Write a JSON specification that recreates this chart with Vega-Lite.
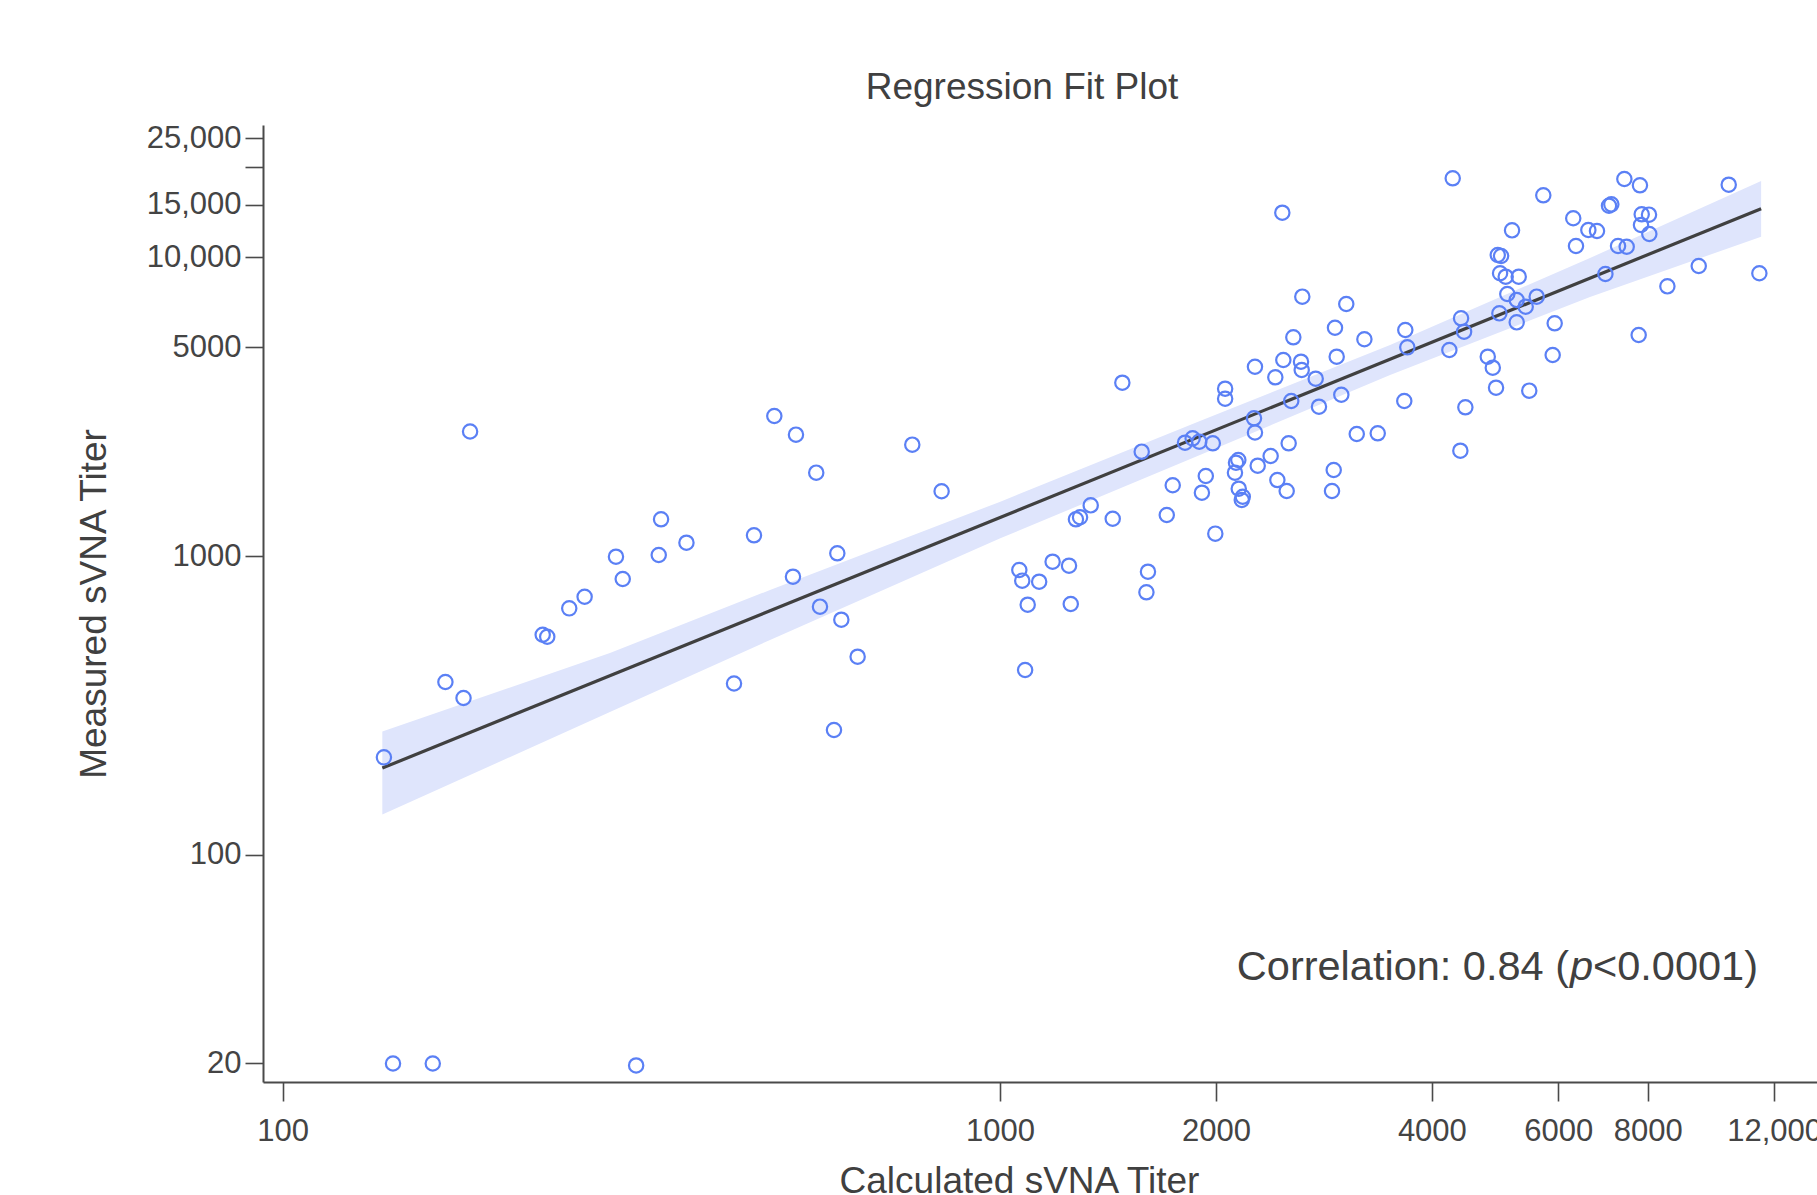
{
  "$schema": "https://vega.github.io/schema/vega-lite/v6.json",
  "width": 1554,
  "height": 957,
  "autosize": {"type": "none"},
  "padding": {"left": 263, "top": 125, "right": 0, "bottom": 113},
  "background": "white",
  "title": {"text": "Regression Fit Plot", "fontSize": 37, "font": "Liberation Sans", "fontWeight": "normal", "color": "#404040", "anchor": "middle", "dx": -18, "offset": -14, "baseline": "alphabetic", "frame": "group"},
  "config": {
    "view": {"stroke": null},
    "font": "Liberation Sans",
    "axis": {
      "grid": false,
      "domainColor": "#4a4a4a",
      "domainWidth": 2,
      "tickColor": "#4a4a4a",
      "tickWidth": 1.6,
      "labelColor": "#444444",
      "labelFont": "Liberation Sans",
      "labelFontSize": 31,
      "titleFont": "Liberation Sans",
      "titleFontSize": 37,
      "titleFontWeight": "normal",
      "titleColor": "#404040",
      "labelOverlap": false,
      "labelBound": false,
      "labelFlush": false
    }
  },
  "datasets": {
    "points": [
      {"x": 138.4, "y": 211.8}, {"x": 142.5, "y": 20}, {"x": 161.9, "y": 20}, {"x": 311, "y": 19.7},
      {"x": 168.6, "y": 378.6}, {"x": 178.7, "y": 334.7}, {"x": 182.5, "y": 2611}, {"x": 230.4, "y": 545},
      {"x": 233.8, "y": 536.7}, {"x": 250.9, "y": 668}, {"x": 263.6, "y": 730.5}, {"x": 291.5, "y": 994.6},
      {"x": 297.9, "y": 837.5}, {"x": 334.4, "y": 1008}, {"x": 336.9, "y": 1327}, {"x": 365.5, "y": 1108},
      {"x": 425.8, "y": 374.3}, {"x": 454, "y": 1173}, {"x": 484.6, "y": 2942}, {"x": 514.5, "y": 852.5},
      {"x": 519.5, "y": 2548}, {"x": 554.4, "y": 1901}, {"x": 561.1, "y": 676.7}, {"x": 586.9, "y": 261.5},
      {"x": 593.2, "y": 1021}, {"x": 600.9, "y": 612}, {"x": 633.2, "y": 460.1}, {"x": 754.6, "y": 2359},
      {"x": 829.1, "y": 1647}, {"x": 1064, "y": 897.6}, {"x": 1074, "y": 826.8}, {"x": 1093, "y": 687.1},
      {"x": 1084, "y": 415.2}, {"x": 1134, "y": 820.4}, {"x": 1184, "y": 957}, {"x": 1248, "y": 927.9},
      {"x": 1255, "y": 690.8}, {"x": 1276, "y": 1327}, {"x": 1293, "y": 1348}, {"x": 1338, "y": 1478},
      {"x": 1436, "y": 1333}, {"x": 1481, "y": 3804}, {"x": 1576, "y": 2235}, {"x": 1600, "y": 756},
      {"x": 1608, "y": 886}, {"x": 1708, "y": 1372}, {"x": 1741, "y": 1725}, {"x": 1811, "y": 2395},
      {"x": 1856, "y": 2477}, {"x": 1896, "y": 2414}, {"x": 1980, "y": 2384}, {"x": 1912, "y": 1629},
      {"x": 1936, "y": 1853}, {"x": 1996, "y": 1188}, {"x": 2060, "y": 3632}, {"x": 2060, "y": 3362},
      {"x": 2126, "y": 1901}, {"x": 2149, "y": 2096}, {"x": 2133, "y": 2053}, {"x": 2152, "y": 1680},
      {"x": 2180, "y": 1579}, {"x": 2173, "y": 1540}, {"x": 2260, "y": 2891}, {"x": 2267, "y": 2591},
      {"x": 2267, "y": 4302}, {"x": 2287, "y": 2006}, {"x": 2384, "y": 2162}, {"x": 2420, "y": 3965},
      {"x": 2436, "y": 1796}, {"x": 2475, "y": 14105}, {"x": 2483, "y": 4531}, {"x": 2510, "y": 1651},
      {"x": 2526, "y": 2384}, {"x": 2547, "y": 3303}, {"x": 2564, "y": 5398}, {"x": 2628, "y": 4472},
      {"x": 2634, "y": 4195}, {"x": 2639, "y": 7383}, {"x": 2755, "y": 3923}, {"x": 2784, "y": 3161},
      {"x": 2903, "y": 1651}, {"x": 2919, "y": 1941}, {"x": 2931, "y": 5811}, {"x": 2947, "y": 4648},
      {"x": 2991, "y": 3467}, {"x": 3039, "y": 6979}, {"x": 3143, "y": 2561}, {"x": 3221, "y": 5316},
      {"x": 3362, "y": 2575}, {"x": 3661, "y": 3303}, {"x": 3673, "y": 5709}, {"x": 3697, "y": 4995},
      {"x": 4231, "y": 4893}, {"x": 4277, "y": 18388}, {"x": 4383, "y": 2252}, {"x": 4393, "y": 6248},
      {"x": 4436, "y": 5635}, {"x": 4454, "y": 3147}, {"x": 4786, "y": 4648}, {"x": 4864, "y": 4270},
      {"x": 4915, "y": 3660}, {"x": 4942, "y": 10179}, {"x": 4995, "y": 10101}, {"x": 4979, "y": 8842},
      {"x": 5070, "y": 8611}, {"x": 4968, "y": 6493}, {"x": 5096, "y": 7537}, {"x": 5252, "y": 7194},
      {"x": 5252, "y": 6058}, {"x": 5286, "y": 8611}, {"x": 5174, "y": 12312}, {"x": 5406, "y": 6833},
      {"x": 5468, "y": 3577}, {"x": 5600, "y": 7383}, {"x": 5720, "y": 16130}, {"x": 5895, "y": 4709},
      {"x": 5933, "y": 6012}, {"x": 6297, "y": 13510}, {"x": 6353, "y": 10910}, {"x": 6610, "y": 12340},
      {"x": 6796, "y": 12250}, {"x": 6982, "y": 8795}, {"x": 7063, "y": 14880}, {"x": 7116, "y": 15040},
      {"x": 7271, "y": 10910}, {"x": 7420, "y": 18290}, {"x": 7476, "y": 10850}, {"x": 7769, "y": 5495},
      {"x": 7801, "y": 17420}, {"x": 7827, "y": 12830}, {"x": 7845, "y": 13930}, {"x": 8031, "y": 13890},
      {"x": 8039, "y": 11970}, {"x": 8519, "y": 7995}, {"x": 9421, "y": 9352}, {"x": 10373, "y": 17500},
      {"x": 11445, "y": 8842}
    ],
    "fit": [
      {"x": 137.7, "y": 195},
      {"x": 11510, "y": 14545}
    ],
    "band": [
      {"x": 137.7, "lo": 136.3, "hi": 258.5},
      {"x": 285.9, "lo": 300.4, "hi": 473.5},
      {"x": 478, "lo": 523.4, "hi": 769.5},
      {"x": 1001, "lo": 1146, "hi": 1520},
      {"x": 1900, "lo": 2178, "hi": 2831},
      {"x": 3498, "lo": 4036, "hi": 5087},
      {"x": 6645, "lo": 7366, "hi": 9947},
      {"x": 11510, "lo": 11720, "hi": 18010}
    ],
    "note": [
      {"x": 6232, "y": 38.06, "a": "Correlation: 0.84 (", "b": "p", "c": "<0.0001)"}
    ]
  },
  "layer": [
    {
      "data": {"name": "band"},
      "mark": {"type": "area", "color": "#dfe5fc", "opacity": 1},
      "encoding": {
        "x": {"field": "x", "type": "quantitative", "scale": {"type": "log", "domain": [93.88, 13771], "nice": false, "zero": false}, "title": "Calculated sVNA Titer",
              "axis": {"values": [100, 1000, 2000, 4000, 6000, 8000, 12000], "labelExpr": "datum.value >= 10000 ? format(datum.value, ',') : format(datum.value, 'd')", "tickSize": 19, "labelPadding": 15, "titlePadding": 17, "titleX": 756}},
        "y": {"field": "lo", "type": "quantitative", "scale": {"type": "log", "domain": [17.34, 27730], "nice": false, "zero": false}, "title": "Measured sVNA Titer",
              "axis": {"values": [20, 100, 1000, 5000, 10000, 15000, 20000, 25000], "labelExpr": "datum.value == 20000 ? '' : (datum.value >= 10000 ? format(datum.value, ',') : format(datum.value, 'd'))", "tickSize": 18, "labelPadding": 4, "titlePadding": 33}},
        "y2": {"field": "hi"}
      }
    },
    {
      "data": {"name": "fit"},
      "mark": {"type": "line", "color": "#404040", "strokeWidth": 3.2},
      "encoding": {
        "x": {"field": "x", "type": "quantitative", "title": "Calculated sVNA Titer"},
        "y": {"field": "y", "type": "quantitative", "title": "Measured sVNA Titer"}
      }
    },
    {
      "data": {"name": "points"},
      "mark": {"type": "point", "shape": "circle", "filled": false, "stroke": "#5b80f5", "strokeWidth": 2.2, "size": 205, "opacity": 1},
      "encoding": {
        "x": {"field": "x", "type": "quantitative", "title": "Calculated sVNA Titer"},
        "y": {"field": "y", "type": "quantitative", "title": "Measured sVNA Titer"}
      }
    },
    {
      "data": {"name": "note"},
      "mark": {"type": "text", "fontSize": 41.5, "font": "Liberation Sans", "color": "#404040", "align": "right", "baseline": "alphabetic", "dx": -1},
      "encoding": {
        "x": {"field": "x", "type": "quantitative"},
        "y": {"field": "y", "type": "quantitative"},
        "text": {"field": "a"}
      }
    },
    {
      "data": {"name": "note"},
      "mark": {"type": "text", "fontSize": 41.5, "font": "Liberation Sans", "fontStyle": "italic", "color": "#404040", "align": "left", "baseline": "alphabetic", "dx": 0},
      "encoding": {
        "x": {"field": "x", "type": "quantitative"},
        "y": {"field": "y", "type": "quantitative"},
        "text": {"field": "b"}
      }
    },
    {
      "data": {"name": "note"},
      "mark": {"type": "text", "fontSize": 41.5, "font": "Liberation Sans", "color": "#404040", "align": "left", "baseline": "alphabetic", "dx": 23},
      "encoding": {
        "x": {"field": "x", "type": "quantitative"},
        "y": {"field": "y", "type": "quantitative"},
        "text": {"field": "c"}
      }
    }
  ]
}
